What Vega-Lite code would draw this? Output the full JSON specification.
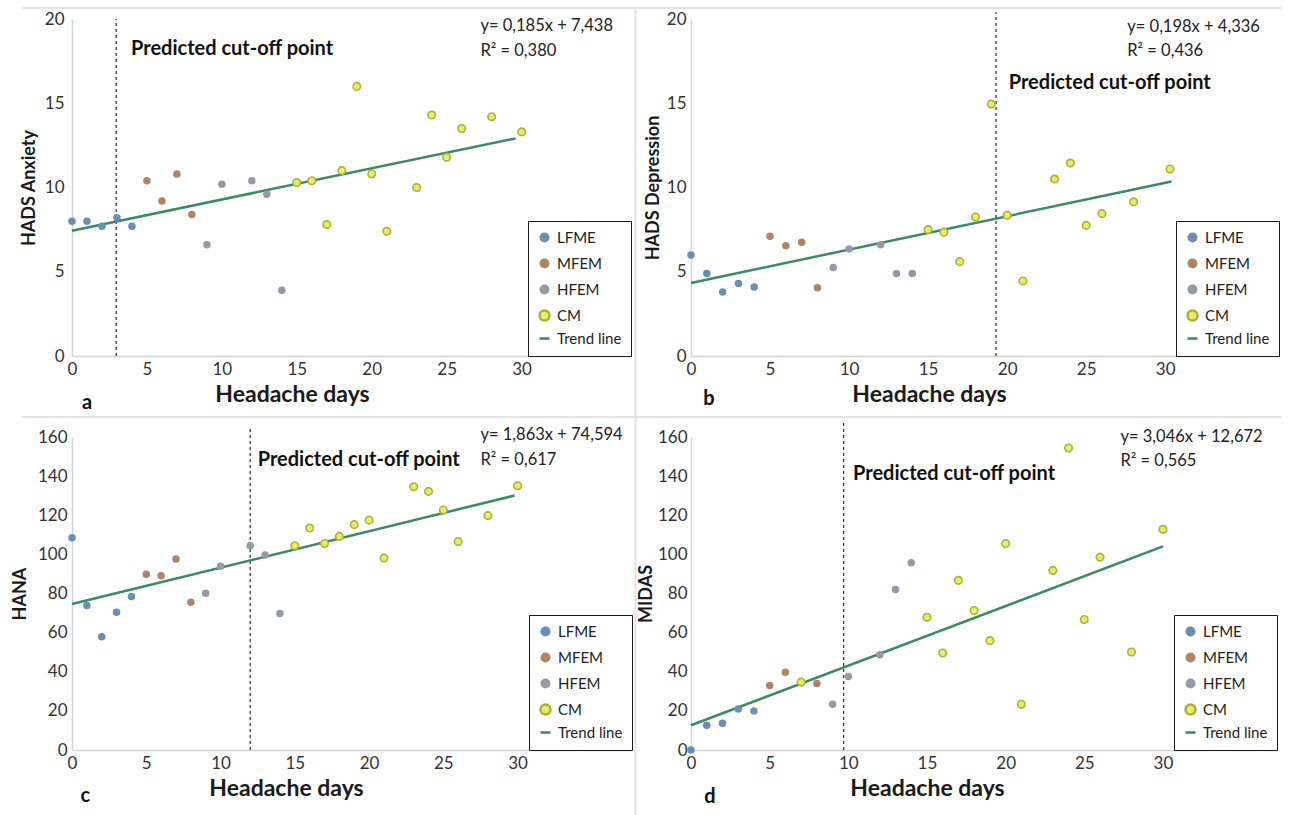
{
  "$schema": "https://vega.github.io/schema/vega-lite/v6.json",
  "padding": {"left": 11, "top": 7, "right": 8, "bottom": 0},
  "background": "white",
  "config": {
    "font": "Lato",
    "view": {"stroke": null},
    "axis": {"ticks": false, "grid": false, "domainColor": "#d4d4d4", "domainWidth": 1.5, "labelFont": "Lato", "labelFontSize": 17, "labelColor": "#333333", "titleFont": "Lato", "titleFontWeight": "bold", "titleColor": "#1a1a1a", "labelOverlap": false, "labelFlush": false},
    "axisX": {"labelPadding": 5, "titleFontSize": 23, "titleBaseline": "middle", "titleAlign": "center"},
    "axisY": {"labelPadding": 8, "titleFontSize": 18, "titlePadding": 6},
    "legend": {"orient": "bottom-right", "title": null, "offset": 0, "strokeColor": "#1a1a1a", "fillColor": "#ffffff", "padding": 9, "labelFont": "Lato", "labelFontSize": 15, "labelColor": "#222222", "symbolStrokeWidth": 2.5, "rowPadding": 5, "labelOffset": 5}
  },
  "datasets": {
    "pts": [
      {"p": "a", "day": 0, "score": 8.0, "group": "LFME"},
      {"p": "a", "day": 1, "score": 8.0, "group": "LFME"},
      {"p": "a", "day": 2, "score": 7.7, "group": "LFME"},
      {"p": "a", "day": 3, "score": 8.2, "group": "LFME"},
      {"p": "a", "day": 4, "score": 7.7, "group": "LFME"},
      {"p": "a", "day": 5, "score": 10.4, "group": "MFEM"},
      {"p": "a", "day": 6, "score": 9.2, "group": "MFEM"},
      {"p": "a", "day": 7, "score": 10.8, "group": "MFEM"},
      {"p": "a", "day": 8, "score": 8.4, "group": "MFEM"},
      {"p": "a", "day": 9, "score": 6.6, "group": "HFEM"},
      {"p": "a", "day": 10, "score": 10.2, "group": "HFEM"},
      {"p": "a", "day": 12, "score": 10.4, "group": "HFEM"},
      {"p": "a", "day": 13, "score": 9.6, "group": "HFEM"},
      {"p": "a", "day": 14, "score": 3.9, "group": "HFEM"},
      {"p": "a", "day": 15, "score": 10.3, "group": "CM"},
      {"p": "a", "day": 16, "score": 10.4, "group": "CM"},
      {"p": "a", "day": 17, "score": 7.8, "group": "CM"},
      {"p": "a", "day": 18, "score": 11.0, "group": "CM"},
      {"p": "a", "day": 19, "score": 16.0, "group": "CM"},
      {"p": "a", "day": 20, "score": 10.8, "group": "CM"},
      {"p": "a", "day": 21, "score": 7.4, "group": "CM"},
      {"p": "a", "day": 23, "score": 10.0, "group": "CM"},
      {"p": "a", "day": 24, "score": 14.3, "group": "CM"},
      {"p": "a", "day": 25, "score": 11.8, "group": "CM"},
      {"p": "a", "day": 26, "score": 13.5, "group": "CM"},
      {"p": "a", "day": 28, "score": 14.2, "group": "CM"},
      {"p": "a", "day": 30, "score": 13.3, "group": "CM"},
      {"p": "b", "day": 0, "score": 6.0, "group": "LFME"},
      {"p": "b", "day": 1, "score": 4.9, "group": "LFME"},
      {"p": "b", "day": 2, "score": 3.8, "group": "LFME"},
      {"p": "b", "day": 3, "score": 4.3, "group": "LFME"},
      {"p": "b", "day": 4, "score": 4.1, "group": "LFME"},
      {"p": "b", "day": 5, "score": 7.1, "group": "MFEM"},
      {"p": "b", "day": 6, "score": 6.55, "group": "MFEM"},
      {"p": "b", "day": 7, "score": 6.75, "group": "MFEM"},
      {"p": "b", "day": 8, "score": 4.05, "group": "MFEM"},
      {"p": "b", "day": 9, "score": 5.25, "group": "HFEM"},
      {"p": "b", "day": 10, "score": 6.35, "group": "HFEM"},
      {"p": "b", "day": 12, "score": 6.6, "group": "HFEM"},
      {"p": "b", "day": 13, "score": 4.9, "group": "HFEM"},
      {"p": "b", "day": 14, "score": 4.9, "group": "HFEM"},
      {"p": "b", "day": 15, "score": 7.5, "group": "CM"},
      {"p": "b", "day": 16, "score": 7.35, "group": "CM"},
      {"p": "b", "day": 17, "score": 5.6, "group": "CM"},
      {"p": "b", "day": 18, "score": 8.25, "group": "CM"},
      {"p": "b", "day": 19, "score": 14.95, "group": "CM"},
      {"p": "b", "day": 20, "score": 8.35, "group": "CM"},
      {"p": "b", "day": 21, "score": 4.45, "group": "CM"},
      {"p": "b", "day": 23, "score": 10.5, "group": "CM"},
      {"p": "b", "day": 24, "score": 11.45, "group": "CM"},
      {"p": "b", "day": 25, "score": 7.75, "group": "CM"},
      {"p": "b", "day": 26, "score": 8.45, "group": "CM"},
      {"p": "b", "day": 28, "score": 9.15, "group": "CM"},
      {"p": "b", "day": 30.3, "score": 11.1, "group": "CM"},
      {"p": "c", "day": 0, "score": 108.5, "group": "LFME"},
      {"p": "c", "day": 1, "score": 73.9, "group": "LFME"},
      {"p": "c", "day": 2, "score": 57.9, "group": "LFME"},
      {"p": "c", "day": 3, "score": 70.4, "group": "LFME"},
      {"p": "c", "day": 4, "score": 78.5, "group": "LFME"},
      {"p": "c", "day": 5, "score": 89.8, "group": "MFEM"},
      {"p": "c", "day": 6, "score": 89.1, "group": "MFEM"},
      {"p": "c", "day": 7, "score": 97.6, "group": "MFEM"},
      {"p": "c", "day": 8, "score": 75.5, "group": "MFEM"},
      {"p": "c", "day": 9, "score": 80.1, "group": "HFEM"},
      {"p": "c", "day": 10, "score": 93.9, "group": "HFEM"},
      {"p": "c", "day": 12, "score": 104.4, "group": "HFEM"},
      {"p": "c", "day": 13, "score": 99.7, "group": "HFEM"},
      {"p": "c", "day": 14, "score": 69.8, "group": "HFEM"},
      {"p": "c", "day": 15, "score": 104.4, "group": "CM"},
      {"p": "c", "day": 16, "score": 113.5, "group": "CM"},
      {"p": "c", "day": 17, "score": 105.6, "group": "CM"},
      {"p": "c", "day": 18, "score": 109.2, "group": "CM"},
      {"p": "c", "day": 19, "score": 115.2, "group": "CM"},
      {"p": "c", "day": 20, "score": 117.5, "group": "CM"},
      {"p": "c", "day": 21, "score": 98.1, "group": "CM"},
      {"p": "c", "day": 23, "score": 134.6, "group": "CM"},
      {"p": "c", "day": 24, "score": 132.2, "group": "CM"},
      {"p": "c", "day": 25, "score": 122.7, "group": "CM"},
      {"p": "c", "day": 26, "score": 106.6, "group": "CM"},
      {"p": "c", "day": 28, "score": 119.8, "group": "CM"},
      {"p": "c", "day": 30, "score": 135.1, "group": "CM"},
      {"p": "d", "day": 0, "score": 0, "group": "LFME"},
      {"p": "d", "day": 1, "score": 12.6, "group": "LFME"},
      {"p": "d", "day": 2, "score": 13.7, "group": "LFME"},
      {"p": "d", "day": 3, "score": 21.0, "group": "LFME"},
      {"p": "d", "day": 4, "score": 20.0, "group": "LFME"},
      {"p": "d", "day": 5, "score": 33.0, "group": "MFEM"},
      {"p": "d", "day": 6, "score": 39.8, "group": "MFEM"},
      {"p": "d", "day": 7, "score": 34.7, "group": "CM"},
      {"p": "d", "day": 8, "score": 34.0, "group": "MFEM"},
      {"p": "d", "day": 9, "score": 23.4, "group": "HFEM"},
      {"p": "d", "day": 10, "score": 37.6, "group": "HFEM"},
      {"p": "d", "day": 12, "score": 48.7, "group": "HFEM"},
      {"p": "d", "day": 13, "score": 82.0, "group": "HFEM"},
      {"p": "d", "day": 14, "score": 95.7, "group": "HFEM"},
      {"p": "d", "day": 15, "score": 67.9, "group": "CM"},
      {"p": "d", "day": 16, "score": 49.6, "group": "CM"},
      {"p": "d", "day": 17, "score": 86.7, "group": "CM"},
      {"p": "d", "day": 18, "score": 71.3, "group": "CM"},
      {"p": "d", "day": 19, "score": 55.9, "group": "CM"},
      {"p": "d", "day": 20, "score": 105.5, "group": "CM"},
      {"p": "d", "day": 21, "score": 23.4, "group": "CM"},
      {"p": "d", "day": 23, "score": 91.8, "group": "CM"},
      {"p": "d", "day": 24, "score": 154.4, "group": "CM"},
      {"p": "d", "day": 25, "score": 66.7, "group": "CM"},
      {"p": "d", "day": 26, "score": 98.6, "group": "CM"},
      {"p": "d", "day": 28, "score": 50.1, "group": "CM"},
      {"p": "d", "day": 30, "score": 112.8, "group": "CM"}
    ],
    "trend": [
      {"p": "a", "day": 0, "score": 7.438},
      {"p": "a", "day": 29.6, "score": 12.914},
      {"p": "b", "day": 0, "score": 4.336},
      {"p": "b", "day": 30.4, "score": 10.355},
      {"p": "c", "day": 0, "score": 74.594},
      {"p": "c", "day": 29.8, "score": 130.1},
      {"p": "d", "day": 0, "score": 12.672},
      {"p": "d", "day": 30, "score": 104.05}
    ],
    "cut": [
      {"p": "a", "day": 2.95, "score": 0, "score2": 20},
      {"p": "b", "day": 19.3, "score": 0, "score2": 20.4},
      {"p": "c", "day": 12.0, "score": 0, "score2": 165},
      {"p": "d", "day": 9.7, "score": 0, "score2": 168}
    ],
    "frame": [
      {"day": -3.33, "day2": 80.7, "score": 20.65, "score2": 20.65},
      {"day": -3.33, "day2": 80.7, "score": -3.62, "score2": -3.62},
      {"day": 37.6, "day2": 37.6, "score": 20.65, "score2": -27.3}
    ],
    "txt": [
      {"p": "a", "kind": "cut", "day": 3.94, "score": 18.2, "text": "Predicted cut-off point"},
      {"p": "a", "kind": "eq", "day": 27.25, "score": 19.6, "text": "y= 0,185x + 7,438"},
      {"p": "a", "kind": "eq", "day": 27.25, "score": 18.1, "text": "R² = 0,380"},
      {"p": "a", "kind": "letter", "day": 1.0, "score": -2.76, "text": "a"},
      {"p": "b", "kind": "cut", "day": 20.1, "score": 16.2, "text": "Predicted cut-off point"},
      {"p": "b", "kind": "eq", "day": 27.6, "score": 19.5, "text": "y= 0,198x + 4,336"},
      {"p": "b", "kind": "eq", "day": 27.6, "score": 18.1, "text": "R² = 0,436"},
      {"p": "b", "kind": "letter", "day": 1.14, "score": -2.55, "text": "b"},
      {"p": "c", "kind": "cut", "day": 12.5, "score": 148, "text": "Predicted cut-off point"},
      {"p": "c", "kind": "eq", "day": 27.5, "score": 161, "text": "y= 1,863x + 74,594"},
      {"p": "c", "kind": "eq", "day": 27.5, "score": 148, "text": "R² = 0,617"},
      {"p": "c", "kind": "letter", "day": 0.9, "score": -23.5, "text": "c"},
      {"p": "d", "kind": "cut", "day": 10.3, "score": 141, "text": "Predicted cut-off point"},
      {"p": "d", "kind": "eq", "day": 27.3, "score": 160, "text": "y= 3,046x + 12,672"},
      {"p": "d", "kind": "eq", "day": 27.3, "score": 147.7, "text": "R² = 0,565"},
      {"p": "d", "kind": "letter", "day": 1.2, "score": -24, "text": "d"}
    ]
  },
  "columns": 2,
  "bounds": "flush",
  "spacing": {"row": 81, "column": 59},
  "resolve": {"scale": {"x": "independent", "y": "independent", "color": "independent", "stroke": "independent", "shape": "independent"}, "legend": {"color": "independent", "stroke": "independent", "shape": "independent"}},
  "concat": [
    {
      "width": 559, "height": 337,
      "layer": [
        {"data": {"name": "frame"},
         "mark": {"type": "rule", "color": "#e3e3e3", "strokeWidth": 2},
         "encoding": {
           "x": {"field": "day", "type": "quantitative", "scale": {"domain": [0, 37.3], "nice": false, "zero": false}, "axis": {"values": [0, 5, 10, 15, 20, 25, 30], "tickCount": 10, "title": "Headache days", "titleX": 220, "titleY": 38}},
           "x2": {"field": "day2"},
           "y": {"field": "score", "type": "quantitative", "scale": {"domain": [0, 20], "nice": false}, "axis": {"values": [0, 5, 10, 15, 20], "tickCount": 10, "title": "HADS Anxiety"}},
           "y2": {"field": "score2"}}},
        {"data": {"name": "cut"}, "transform": [{"filter": "datum.p === 'a'"}],
         "mark": {"type": "rule", "strokeDash": [3, 3], "color": "#3a3a3a", "strokeWidth": 1.3},
         "encoding": {"x": {"field": "day", "type": "quantitative"}, "y": {"field": "score", "type": "quantitative"}, "y2": {"field": "score2"}}},
        {"data": {"name": "trend"}, "transform": [{"filter": "datum.p === 'a'"}],
         "mark": {"type": "line", "strokeWidth": 2.5, "color": "#3a8b60"},
         "encoding": {"x": {"field": "day", "type": "quantitative"}, "y": {"field": "score", "type": "quantitative"}}},
        {"data": {"name": "pts"}, "transform": [{"filter": "datum.p === 'a'"}],
         "mark": {"type": "point", "filled": true, "opacity": 1, "strokeWidth": 1.6, "size": 56},
         "encoding": {"x": {"field": "day", "type": "quantitative"}, "y": {"field": "score", "type": "quantitative"},
           "color": {"field": "group", "type": "nominal", "scale": {"domain": ["LFME", "MFEM", "HFEM", "CM", "Trend line"], "range": ["#6a8fb5", "#ad866a", "#939ca6", "#e6ec72", "#3a8b60"]},
             "legend": {"encode": {"labels": {"update": {"fontSize": {"value": 12}}}}}},
           "stroke": {"field": "group", "type": "nominal", "scale": {"domain": ["LFME", "MFEM", "HFEM", "CM", "Trend line"], "range": ["transparent", "transparent", "transparent", "#aab432", "#3a8b60"]},
             "legend": {"encode": {"labels": {"update": {"fontSize": {"value": 12}}}}}},
           "shape": {"field": "group", "type": "nominal", "scale": {"domain": ["LFME", "MFEM", "HFEM", "CM", "Trend line"], "range": ["circle", "circle", "circle", "circle", "stroke"]},
             "legend": {"encode": {"labels": {"update": {"fontSize": {"value": 12}}}}}}}},
        {"data": {"name": "txt"}, "transform": [{"filter": "datum.p === 'a' && datum.kind === 'cut'"}],
         "mark": {"type": "text", "align": "left", "baseline": "middle", "font": "Lato", "fontWeight": "bold", "fontSize": 20, "color": "#111111"},
         "encoding": {"x": {"field": "day", "type": "quantitative"}, "y": {"field": "score", "type": "quantitative"}, "text": {"field": "text"}}},
        {"data": {"name": "txt"}, "transform": [{"filter": "datum.p === 'a' && datum.kind === 'eq'"}],
         "mark": {"type": "text", "align": "left", "baseline": "middle", "font": "Lato", "fontSize": 16.5, "color": "#222222"},
         "encoding": {"x": {"field": "day", "type": "quantitative"}, "y": {"field": "score", "type": "quantitative"}, "text": {"field": "text"}}},
        {"data": {"name": "txt"}, "transform": [{"filter": "datum.p === 'a' && datum.kind === 'letter'"}],
         "mark": {"type": "text", "align": "center", "baseline": "middle", "font": "Lato", "fontWeight": "bold", "fontSize": 20, "color": "#111111"},
         "encoding": {"x": {"field": "day", "type": "quantitative"}, "y": {"field": "score", "type": "quantitative"}, "text": {"field": "text"}}}
      ]
    },
    {
      "width": 588, "height": 337,
      "layer": [
        {"data": {"name": "cut"}, "transform": [{"filter": "datum.p === 'b'"}],
         "mark": {"type": "rule", "strokeDash": [3, 3], "color": "#3a3a3a", "strokeWidth": 1.3},
         "encoding": {
           "x": {"field": "day", "type": "quantitative", "scale": {"domain": [0, 37.2], "nice": false, "zero": false}, "axis": {"values": [0, 5, 10, 15, 20, 25, 30], "tickCount": 10, "title": "Headache days", "titleX": 238, "titleY": 38}},
           "y": {"field": "score", "type": "quantitative", "scale": {"domain": [0, 20], "nice": false}, "axis": {"values": [0, 5, 10, 15, 20], "tickCount": 10, "title": "HADS Depression", "labelPadding": 5, "titlePadding": 4}},
           "y2": {"field": "score2"}}},
        {"data": {"name": "trend"}, "transform": [{"filter": "datum.p === 'b'"}],
         "mark": {"type": "line", "strokeWidth": 2.5, "color": "#3a8b60"},
         "encoding": {"x": {"field": "day", "type": "quantitative"}, "y": {"field": "score", "type": "quantitative"}}},
        {"data": {"name": "pts"}, "transform": [{"filter": "datum.p === 'b'"}],
         "mark": {"type": "point", "filled": true, "opacity": 1, "strokeWidth": 1.6, "size": 56},
         "encoding": {"x": {"field": "day", "type": "quantitative"}, "y": {"field": "score", "type": "quantitative"},
           "color": {"field": "group", "type": "nominal", "scale": {"domain": ["LFME", "MFEM", "HFEM", "CM", "Trend line"], "range": ["#6a8fb5", "#ad866a", "#939ca6", "#e6ec72", "#3a8b60"]},
             "legend": {"encode": {"labels": {"fontSize": {"value": 12}}}}},
           "stroke": {"field": "group", "type": "nominal", "scale": {"domain": ["LFME", "MFEM", "HFEM", "CM", "Trend line"], "range": ["transparent", "transparent", "transparent", "#aab432", "#3a8b60"]},
             "legend": {"encode": {"labels": {"fontSize": {"value": 12}}}}},
           "shape": {"field": "group", "type": "nominal", "scale": {"domain": ["LFME", "MFEM", "HFEM", "CM", "Trend line"], "range": ["circle", "circle", "circle", "circle", "stroke"]},
             "legend": {"encode": {"labels": {"fontSize": {"value": 12}}}}}}},
        {"data": {"name": "txt"}, "transform": [{"filter": "datum.p === 'b' && datum.kind === 'cut'"}],
         "mark": {"type": "text", "align": "left", "baseline": "middle", "font": "Lato", "fontWeight": "bold", "fontSize": 20, "color": "#111111"},
         "encoding": {"x": {"field": "day", "type": "quantitative"}, "y": {"field": "score", "type": "quantitative"}, "text": {"field": "text"}}},
        {"data": {"name": "txt"}, "transform": [{"filter": "datum.p === 'b' && datum.kind === 'eq'"}],
         "mark": {"type": "text", "align": "left", "baseline": "middle", "font": "Lato", "fontSize": 16.5, "color": "#222222"},
         "encoding": {"x": {"field": "day", "type": "quantitative"}, "y": {"field": "score", "type": "quantitative"}, "text": {"field": "text"}}},
        {"data": {"name": "txt"}, "transform": [{"filter": "datum.p === 'b' && datum.kind === 'letter'"}],
         "mark": {"type": "text", "align": "center", "baseline": "middle", "font": "Lato", "fontWeight": "bold", "fontSize": 20, "color": "#111111"},
         "encoding": {"x": {"field": "day", "type": "quantitative"}, "y": {"field": "score", "type": "quantitative"}, "text": {"field": "text"}}}
      ]
    },
    {
      "width": 560, "height": 313,
      "layer": [
        {"data": {"name": "cut"}, "transform": [{"filter": "datum.p === 'c'"}],
         "mark": {"type": "rule", "strokeDash": [3, 3], "color": "#3a3a3a", "strokeWidth": 1.3},
         "encoding": {
           "x": {"field": "day", "type": "quantitative", "scale": {"domain": [0, 37.7], "nice": false, "zero": false}, "axis": {"values": [0, 5, 10, 15, 20, 25, 30], "tickCount": 10, "title": "Headache days", "titleX": 214, "titleY": 38}},
           "y": {"field": "score", "type": "quantitative", "scale": {"domain": [0, 160], "nice": false}, "axis": {"values": [0, 20, 40, 60, 80, 100, 120, 140, 160], "tickCount": 12, "title": "HANA", "labelPadding": 5, "titlePadding": 8}},
           "y2": {"field": "score2"}}},
        {"data": {"name": "trend"}, "transform": [{"filter": "datum.p === 'c'"}],
         "mark": {"type": "line", "strokeWidth": 2.5, "color": "#3a8b60"},
         "encoding": {"x": {"field": "day", "type": "quantitative"}, "y": {"field": "score", "type": "quantitative"}}},
        {"data": {"name": "pts"}, "transform": [{"filter": "datum.p === 'c'"}],
         "mark": {"type": "point", "filled": true, "opacity": 1, "strokeWidth": 1.6, "size": 56},
         "encoding": {"x": {"field": "day", "type": "quantitative"}, "y": {"field": "score", "type": "quantitative"},
           "color": {"field": "group", "type": "nominal", "scale": {"domain": ["LFME", "MFEM", "HFEM", "CM", "Trend line"], "range": ["#6a8fb5", "#ad866a", "#939ca6", "#e6ec72", "#3a8b60"]},
             "legend": {"encode": {"labels": {"fontSize": {"signal": "datum.label === 'Trend line' ? 12 : 15"}}}}},
           "stroke": {"field": "group", "type": "nominal", "scale": {"domain": ["LFME", "MFEM", "HFEM", "CM", "Trend line"], "range": ["transparent", "transparent", "transparent", "#aab432", "#3a8b60"]},
             "legend": {"encode": {"labels": {"fontSize": {"signal": "datum.label === 'Trend line' ? 12 : 15"}}}}},
           "shape": {"field": "group", "type": "nominal", "scale": {"domain": ["LFME", "MFEM", "HFEM", "CM", "Trend line"], "range": ["circle", "circle", "circle", "circle", "stroke"]},
             "legend": {"encode": {"labels": {"fontSize": {"signal": "datum.label === 'Trend line' ? 12 : 15"}}}}}}},
        {"data": {"name": "txt"}, "transform": [{"filter": "datum.p === 'c' && datum.kind === 'cut'"}],
         "mark": {"type": "text", "align": "left", "baseline": "middle", "font": "Lato", "fontWeight": "bold", "fontSize": 20, "color": "#111111"},
         "encoding": {"x": {"field": "day", "type": "quantitative"}, "y": {"field": "score", "type": "quantitative"}, "text": {"field": "text"}}},
        {"data": {"name": "txt"}, "transform": [{"filter": "datum.p === 'c' && datum.kind === 'eq'"}],
         "mark": {"type": "text", "align": "left", "baseline": "middle", "font": "Lato", "fontSize": 16.5, "color": "#222222"},
         "encoding": {"x": {"field": "day", "type": "quantitative"}, "y": {"field": "score", "type": "quantitative"}, "text": {"field": "text"}}},
        {"data": {"name": "txt"}, "transform": [{"filter": "datum.p === 'c' && datum.kind === 'letter'"}],
         "mark": {"type": "text", "align": "center", "baseline": "middle", "font": "Lato", "fontWeight": "bold", "fontSize": 20, "color": "#111111"},
         "encoding": {"x": {"field": "day", "type": "quantitative"}, "y": {"field": "score", "type": "quantitative"}, "text": {"field": "text"}}}
      ]
    },
    {
      "width": 586, "height": 313,
      "layer": [
        {"data": {"name": "cut"}, "transform": [{"filter": "datum.p === 'd'"}],
         "mark": {"type": "rule", "strokeDash": [3, 3], "color": "#3a3a3a", "strokeWidth": 1.3},
         "encoding": {
           "x": {"field": "day", "type": "quantitative", "scale": {"domain": [0, 37.25], "nice": false, "zero": false}, "axis": {"values": [0, 5, 10, 15, 20, 25, 30], "tickCount": 10, "title": "Headache days", "titleX": 236, "titleY": 38}},
           "y": {"field": "score", "type": "quantitative", "scale": {"domain": [0, 160], "nice": false}, "axis": {"values": [0, 20, 40, 60, 80, 100, 120, 140, 160], "tickCount": 12, "title": "MIDAS", "labelPadding": 4, "titlePadding": 2}},
           "y2": {"field": "score2"}}},
        {"data": {"name": "trend"}, "transform": [{"filter": "datum.p === 'd'"}],
         "mark": {"type": "line", "strokeWidth": 2.5, "color": "#3a8b60"},
         "encoding": {"x": {"field": "day", "type": "quantitative"}, "y": {"field": "score", "type": "quantitative"}}},
        {"data": {"name": "pts"}, "transform": [{"filter": "datum.p === 'd'"}],
         "mark": {"type": "point", "filled": true, "opacity": 1, "strokeWidth": 1.6, "size": 56},
         "encoding": {"x": {"field": "day", "type": "quantitative"}, "y": {"field": "score", "type": "quantitative"},
           "color": {"field": "group", "type": "nominal", "scale": {"domain": ["LFME", "MFEM", "HFEM", "CM", "Trend line"], "range": ["#6a8fb5", "#ad866a", "#939ca6", "#e6ec72", "#3a8b60"]},
             "legend": {"encode": {"labels": {"fontSize": {"value": {"expr": "datum.label === 'Trend line' ? 12 : 15"}}}}}},
           "stroke": {"field": "group", "type": "nominal", "scale": {"domain": ["LFME", "MFEM", "HFEM", "CM", "Trend line"], "range": ["transparent", "transparent", "transparent", "#aab432", "#3a8b60"]}},
           "shape": {"field": "group", "type": "nominal", "scale": {"domain": ["LFME", "MFEM", "HFEM", "CM", "Trend line"], "range": ["circle", "circle", "circle", "circle", "stroke"]}}}},
        {"data": {"name": "txt"}, "transform": [{"filter": "datum.p === 'd' && datum.kind === 'cut'"}],
         "mark": {"type": "text", "align": "left", "baseline": "middle", "font": "Lato", "fontWeight": "bold", "fontSize": 20, "color": "#111111"},
         "encoding": {"x": {"field": "day", "type": "quantitative"}, "y": {"field": "score", "type": "quantitative"}, "text": {"field": "text"}}},
        {"data": {"name": "txt"}, "transform": [{"filter": "datum.p === 'd' && datum.kind === 'eq'"}],
         "mark": {"type": "text", "align": "left", "baseline": "middle", "font": "Lato", "fontSize": 16.5, "color": "#222222"},
         "encoding": {"x": {"field": "day", "type": "quantitative"}, "y": {"field": "score", "type": "quantitative"}, "text": {"field": "text"}}},
        {"data": {"name": "txt"}, "transform": [{"filter": "datum.p === 'd' && datum.kind === 'letter'"}],
         "mark": {"type": "text", "align": "center", "baseline": "middle", "font": "Lato", "fontWeight": "bold", "fontSize": 20, "color": "#111111"},
         "encoding": {"x": {"field": "day", "type": "quantitative"}, "y": {"field": "score", "type": "quantitative"}, "text": {"field": "text"}}}
      ]
    }
  ]
}
